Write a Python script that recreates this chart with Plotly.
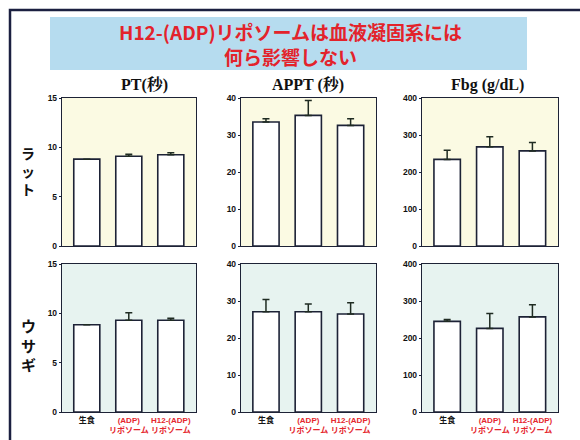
import plotly.graph_objects as go

# --- data -------------------------------------------------------------
groups = ["生食", "(ADP)リポソーム", "H12-(ADP)リポソーム"]
group_labels = ["生食", "(ADP)<br>リポソーム", "H12-(ADP)<br>リポソーム"]
label_colors = ["#151515", "#e5262d", "#e5262d"]

species = ["ラット", "ウサギ"]
measures = ["PT(秒)", "APPT (秒)", "Fbg (g/dL)"]
y_max = [15, 40, 400]
y_step = [5, 10, 100]

# rat
pt_rat = [8.8, 9.1, 9.25]
pt_rat_sd = [0.0, 0.2, 0.2]
appt_rat = [33.5, 35.3, 32.6]
appt_rat_sd = [0.9, 4.0, 1.8]
fbg_rat = [234, 268, 257]
fbg_rat_sd = [25, 27, 23]

# rabbit
pt_rab = [8.85, 9.3, 9.3]
pt_rab_sd = [0.0, 0.75, 0.2]
appt_rab = [27.1, 27.1, 26.5]
appt_rab_sd = [3.3, 2.1, 3.0]
fbg_rab = [245, 226, 257]
fbg_rab_sd = [5, 40, 33]

values = [[pt_rat, appt_rat, fbg_rat], [pt_rab, appt_rab, fbg_rab]]
errors = [[pt_rat_sd, appt_rat_sd, fbg_rat_sd], [pt_rab_sd, appt_rab_sd, fbg_rab_sd]]

# --- layout helpers ---------------------------------------------------
W, H = 580, 440


def px_x(x):
    return x / W


def px_y(y):
    return 1 - y / H


col_px = [(62, 196), (241, 376), (422, 558)]
row_px = [(98, 246), (264, 412)]
row_bg = ["#fbfae3", "#e7f3f0"]
ink = "#1d2236"


def colored(label, color):
    return "<br>".join(
        f'<span style="color:{color}">{part}</span>' for part in label.split("<br>")
    )


tick_text = [colored(l, c) for l, c in zip(group_labels, label_colors)]
xpos = list(range(len(groups)))

fig = go.Figure()
layout_axes = {}
for r in range(2):
    for c in range(3):
        idx = r * 3 + c + 1
        xa = "x" if idx == 1 else f"x{idx}"
        ya = "y" if idx == 1 else f"y{idx}"
        fig.add_trace(
            go.Bar(
                x=xpos,
                y=values[r][c],
                width=0.62,
                marker=dict(color="white", line=dict(color=ink, width=1.6)),
                error_y=dict(
                    type="data",
                    symmetric=False,
                    array=errors[r][c],
                    arrayminus=[0] * len(groups),
                    color="#1f2b22",
                    thickness=1.5,
                    width=3.5,
                ),
                hovertext=groups,
                showlegend=False,
                xaxis=xa,
                yaxis=ya,
            )
        )
        x0, x1 = col_px[c]
        y0, y1 = row_px[r]
        layout_axes["xaxis" if idx == 1 else f"xaxis{idx}"] = dict(
            domain=[px_x(x0), px_x(x1)],
            anchor=ya,
            range=[-0.59, 2.6],
            tickvals=xpos,
            ticktext=tick_text,
            showticklabels=(r == 1),
            tickangle=0,
            automargin=False,
            ticks="",
            tickfont=dict(family="Liberation Sans, Noto Sans CJK JP", size=8, weight="bold"),
            showline=True,
            mirror=True,
            linecolor=ink,
            linewidth=1.4,
            showgrid=False,
            zeroline=False,
            fixedrange=True,
        )
        layout_axes["yaxis" if idx == 1 else f"yaxis{idx}"] = dict(
            domain=[px_y(y1), px_y(y0)],
            anchor=xa,
            range=[0, y_max[c]],
            tickmode="linear",
            tick0=0,
            dtick=y_step[c],
            ticks="outside",
            ticklen=2,
            tickcolor=ink,
            automargin=False,
            tickfont=dict(family="Liberation Sans", size=8.5, color="#111111", weight="bold"),
            showline=True,
            mirror=True,
            linecolor=ink,
            linewidth=1.4,
            showgrid=False,
            zeroline=False,
            fixedrange=True,
        )

fig.update_layout(**layout_axes)

shapes = []
# plot-area backgrounds
for r in range(2):
    for c in range(3):
        x0, x1 = col_px[c]
        y0, y1 = row_px[r]
        shapes.append(
            dict(
                type="rect", xref="paper", yref="paper", layer="below",
                x0=px_x(x0), x1=px_x(x1), y0=px_y(y1), y1=px_y(y0),
                fillcolor=row_bg[r], line=dict(width=0),
            )
        )
# heading banner
shapes.append(
    dict(
        type="rect", xref="paper", yref="paper", layer="below",
        x0=px_x(50), x1=px_x(527), y0=px_y(70), y1=px_y(17),
        fillcolor="#b6dcef", line=dict(width=0),
    )
)
# slide frame (top and left edges)
shapes.append(
    dict(
        type="path", xref="paper", yref="paper",
        path=f"M {px_x(10)},{px_y(445)} L {px_x(10)},{px_y(10)} L {px_x(585)},{px_y(10)}",
        line=dict(color="#1b2040", width=2.5),
    )
)

annotations = []
title_font = dict(family="Noto Sans CJK JP", size=19, color="#e3232b", weight="bold")
annotations.append(dict(
    text="H12-(ADP)リポソームは血液凝固系には<br>何ら影響しない",
    x=px_x(290), y=px_y(44.5),
    xref="paper", yref="paper", showarrow=False, font=title_font,
    xanchor="center", yanchor="middle", align="center",
))

col_title_x = [144, 308, 487]
for name, cx in zip(measures, col_title_x):
    annotations.append(dict(
        text=name, x=px_x(cx), y=px_y(85), xref="paper", yref="paper",
        showarrow=False, xanchor="center", yanchor="middle",
        font=dict(family="Liberation Serif, Noto Serif CJK JP, Noto Sans CJK JP",
                  size=16, color="#111111", weight="bold"),
    ))

row_label_y = [171, 345]
row_label_size = [14, 15]
for name, cy, sz in zip(species, row_label_y, row_label_size):
    annotations.append(dict(
        text="<br>".join(name), x=px_x(28), y=px_y(cy), xref="paper", yref="paper",
        showarrow=False, xanchor="center", yanchor="middle",
        font=dict(family="Noto Sans CJK JP", size=sz, color="#111111", weight="bold"),
    ))

fig.update_layout(
    width=W,
    height=H,
    margin=dict(l=0, r=0, t=0, b=0, autoexpand=False),
    paper_bgcolor="white",
    plot_bgcolor="rgba(0,0,0,0)",
    shapes=shapes,
    annotations=annotations,
    bargap=0.3,
)

fig.write_html("out.html")
